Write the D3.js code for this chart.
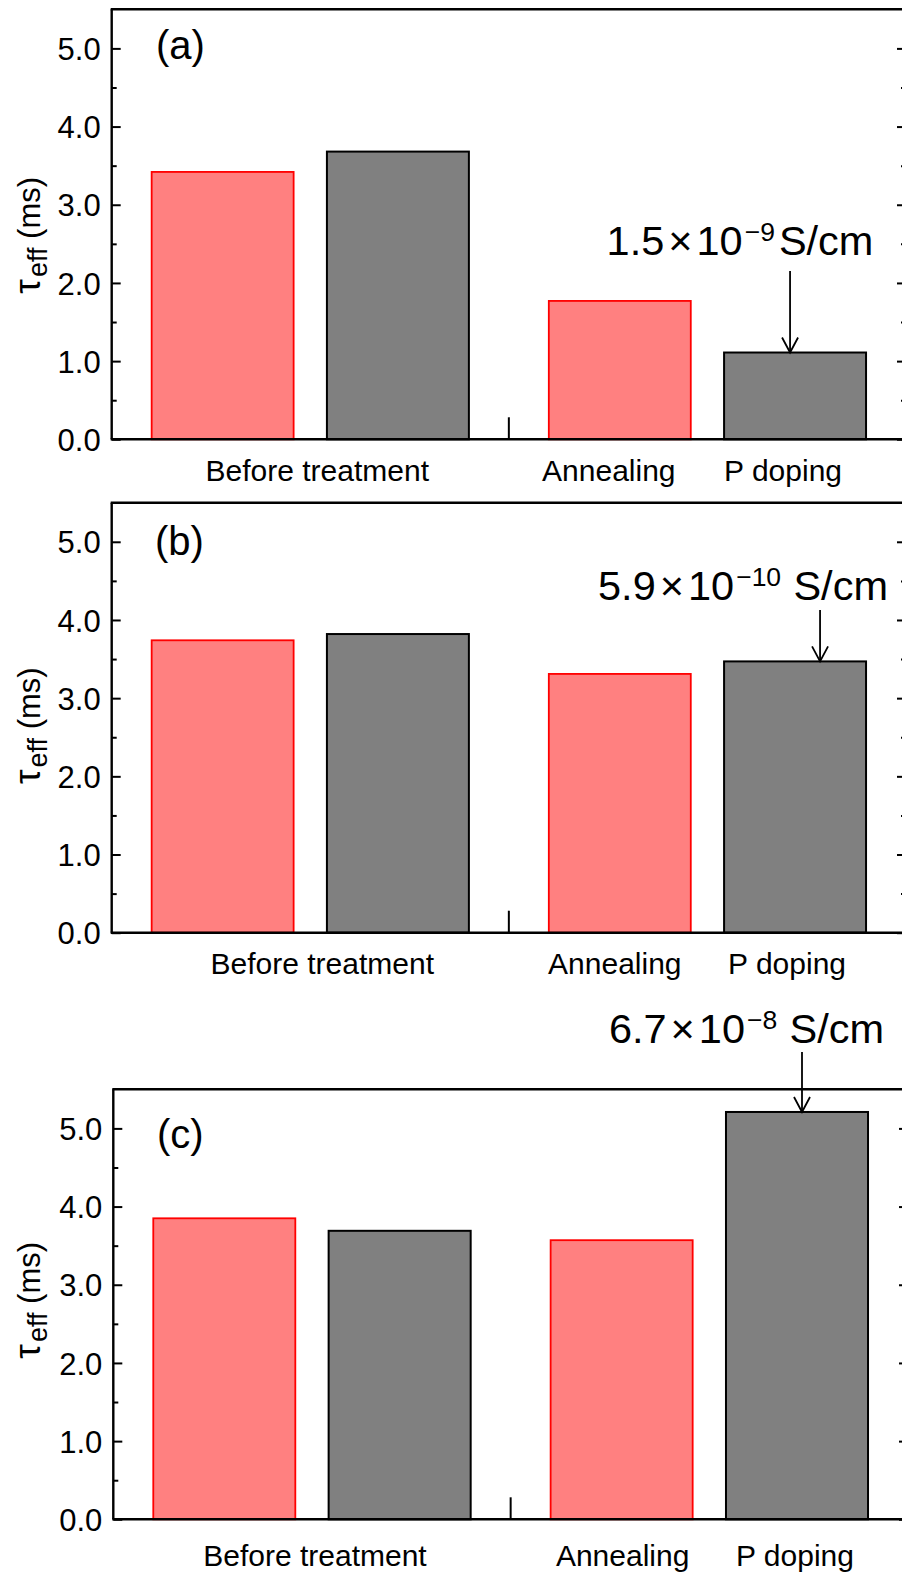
<!DOCTYPE html>
<html>
<head>
<meta charset="utf-8">
<script src="https://cdn.jsdelivr.net/npm/d3@7"></script>
<style>
  html, body { margin: 0; padding: 0; background: #fff; }
  svg { display: block; font-family: "Liberation Sans", Arial, sans-serif; }
</style>
</head>
<body>
<svg id="chart" width="902" height="1576"></svg>
<script>
// ---------------- data ----------------
const groups = ["Before treatment", "After treatment"];
const series = ["Annealing", "P doping"];
const panelNames = ["(a)", "(b)", "(c)"];
// tau_eff (ms): [before-Annealing, before-P doping, after-Annealing, after-P doping]
const valuesA = [3.42, 3.68, 1.77, 1.11];
const valuesB = [3.74, 3.82, 3.31, 3.47];
const valuesC = [3.85, 3.69, 3.57, 5.21];
const yTicks = [0, 1, 2, 3, 4, 5];
const yMinorTicks = [0.5, 1.5, 2.5, 3.5, 4.5];
const annoMantissa = ["1.5", "5.9", "6.7"];
const annoExponent = ["\u22129", "\u221210", "\u22128"];
const annoUnit = ["S/cm", "\u2009S/cm", "\u2009S/cm"];

// ---------------- layout ----------------
const layout = [
  { L: 111.7, R: 906, top: 9.3,  labelDx: [7, -11, -12], labelY: 42, nameY: 50, nameX: 156, titleDy: 11,
    annoX: 740, annoY: 255, arrowTop: 271, arrowDx: -5 },
  { L: 111.7, R: 906, top: 502.7, labelDx: [12, -5, -8], labelY: 41, nameY: 52, nameX: 155, titleDy: 8,
    annoX: 743, annoY: 600, arrowTop: 610, arrowDx: 25 },
  { L: 113.3, R: 908, top: 1089.3, labelDx: [3, 1, -2], labelY: 47, nameY: 59, nameX: 157, titleDy: -4,
    annoX: 746.5, annoY: 1043, arrowTop: 1052, arrowDx: 5 }
];
const plotH = 430;
const allValues = [valuesA, valuesB, valuesC];
const fillColors = { "Annealing": "#FF8080", "P doping": "#808080" };
const strokeColors = { "Annealing": "#FF0000", "P doping": "#000000" };

const svg = d3.select("#chart");

allValues.forEach((vals, pi) => {
  const lay = layout[pi];
  const base = lay.top + plotH;
  const g = svg.append("g");

  const y = d3.scaleLinear().domain([0, 5.5]).range([base, lay.top]);
  const xGroup = d3.scaleBand().domain(groups).range([lay.L, lay.R]).padding(0);
  const xSeries = d3.scaleBand().domain(series).range([0, xGroup.bandwidth()])
    .paddingInner(0.19).paddingOuter(0.228);

  const bars = [];
  groups.forEach((gr, gi) => series.forEach((s, si) => {
    bars.push({ group: gr, series: s, value: vals[gi * 2 + si] });
  }));

  // bars
  g.selectAll("rect.bar").data(bars).enter().append("rect")
    .attr("class", "bar")
    .attr("x", d => xGroup(d.group) + xSeries(d.series))
    .attr("width", xSeries.bandwidth())
    .attr("y", d => y(d.value))
    .attr("height", d => base - y(d.value))
    .attr("fill", d => fillColors[d.series])
    .attr("stroke", d => strokeColors[d.series])
    .attr("stroke-width", d => d.series === "Annealing" ? 1.8 : 2);

  // left axis (ticks inward)
  const left = g.append("g").attr("transform", `translate(${lay.L},0)`)
    .call(d3.axisLeft(y).tickValues(yTicks).tickFormat(d3.format(".1f"))
      .tickSizeInner(-9).tickSizeOuter(0).tickPadding(11));
  left.select(".domain").remove();
  left.selectAll("line").attr("stroke", "#000").attr("stroke-width", 2);
  left.selectAll("text").style("font-size", "31px").attr("fill", "#000").attr("dy", "0.36em");
  const leftMinor = g.append("g").attr("transform", `translate(${lay.L},0)`)
    .call(d3.axisLeft(y).tickValues(yMinorTicks).tickFormat("").tickSizeInner(-5).tickSizeOuter(0));
  leftMinor.select(".domain").remove();
  leftMinor.selectAll("line").attr("stroke", "#000").attr("stroke-width", 2);

  // right axis (ticks inward, no labels)
  const right = g.append("g").attr("transform", `translate(${lay.R},0)`)
    .call(d3.axisLeft(y).tickValues(yTicks).tickFormat("").tickSizeInner(9).tickSizeOuter(0));
  right.select(".domain").remove();
  right.selectAll("line").attr("stroke", "#000").attr("stroke-width", 2);
  const rightMinor = g.append("g").attr("transform", `translate(${lay.R},0)`)
    .call(d3.axisLeft(y).tickValues(yMinorTicks).tickFormat("").tickSizeInner(5).tickSizeOuter(0));
  rightMinor.select(".domain").remove();
  rightMinor.selectAll("line").attr("stroke", "#000").attr("stroke-width", 2);

  // frame lines
  g.append("line").attr("x1", lay.L).attr("x2", lay.L).attr("y1", lay.top).attr("y2", base)
    .attr("stroke", "#000").attr("stroke-width", 2.4);
  g.append("line").attr("x1", lay.L - 1).attr("x2", lay.R).attr("y1", lay.top).attr("y2", lay.top)
    .attr("stroke", "#000").attr("stroke-width", 2.4);
  g.append("line").attr("x1", lay.L - 1).attr("x2", lay.R).attr("y1", base).attr("y2", base)
    .attr("stroke", "#000").attr("stroke-width", 2.4);

  // group separator tick on x axis
  const sepX = xGroup(groups[1]);
  g.append("line").attr("x1", sepX).attr("x2", sepX).attr("y1", base).attr("y2", base - 22)
    .attr("stroke", "#000").attr("stroke-width", 2);

  // category labels
  const labels = [
    { text: groups[0], x: xGroup(groups[0]) + xGroup.bandwidth() / 2 },
    { text: series[0], x: xGroup(groups[1]) + xSeries(series[0]) + xSeries.bandwidth() / 2 },
    { text: series[1], x: xGroup(groups[1]) + xSeries(series[1]) + xSeries.bandwidth() / 2 }
  ];
  g.selectAll("text.cat").data(labels).enter().append("text")
    .attr("class", "cat")
    .attr("x", (d, i) => d.x + lay.labelDx[i])
    .attr("y", base + lay.labelY)
    .attr("text-anchor", "middle")
    .style("font-size", "30px")
    .text(d => d.text);

  // panel name
  g.append("text").attr("x", lay.nameX).attr("y", lay.top + lay.nameY)
    .style("font-size", "40px").text(panelNames[pi]);

  // y title
  const tcy = lay.top + plotH / 2 + lay.titleDy;
  const title = g.append("text")
    .attr("transform", `translate(40,${tcy}) rotate(-90)`)
    .attr("text-anchor", "middle")
    .style("font-size", "31px");
  title.append("tspan").style("font-size", "37px").text("\u03C4");
  title.append("tspan").attr("dx", 2).attr("dy", 7).style("font-size", "27px").text("eff");
  title.append("tspan").attr("dy", -7).text("\u00A0(ms)");

  // annotation text
  const at = g.append("text").attr("x", lay.annoX).attr("y", lay.annoY)
    .attr("text-anchor", "middle").style("font-size", "41.5px");
  at.append("tspan").text(annoMantissa[pi]);
  at.append("tspan").attr("dx", 4).text("\u00D7");
  at.append("tspan").attr("dx", 4).text("10");
  at.append("tspan").attr("dx", 2).attr("dy", -14).style("font-size", "26.5px").text(annoExponent[pi]);
  at.append("tspan").attr("dx", 4).attr("dy", 14).text(annoUnit[pi]);

  // arrow to the P doping bar after treatment
  const target = bars[3];
  const ax = xGroup(target.group) + xSeries(target.series) + xSeries.bandwidth() / 2 + lay.arrowDx;
  const tipY = y(target.value);
  g.append("line").attr("x1", ax).attr("x2", ax).attr("y1", lay.arrowTop).attr("y2", tipY)
    .attr("stroke", "#000").attr("stroke-width", 1.8);
  g.append("path")
    .attr("d", `M${ax - 8},${tipY - 15} L${ax},${tipY} L${ax + 8},${tipY - 15}`)
    .attr("fill", "none").attr("stroke", "#000").attr("stroke-width", 1.8);
});
</script>
</body>
</html>
